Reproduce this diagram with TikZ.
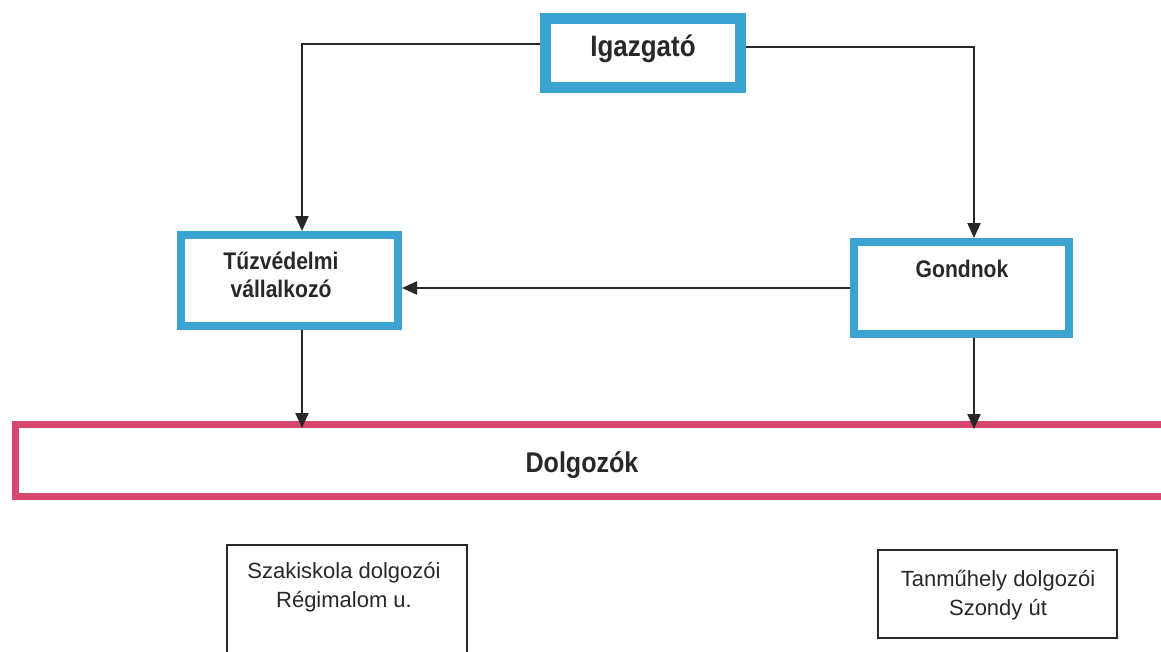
\documentclass[tikz,border=0pt]{standalone}
\usepackage{fontspec}
\setmainfont{Liberation Sans}
\newfontfamily\condsans{Liberation Sans}[FakeStretch=0.88]
\usetikzlibrary{arrows.meta}
\definecolor{boxblue}{RGB}{58,163,209}
\definecolor{dpink}{RGB}{214,72,112}
\definecolor{ink}{RGB}{40,40,40}
\begin{document}
\begin{tikzpicture}[x=1pt,y=-1pt,
  bluebox/.style={draw=boxblue, line width=8pt, fill=white, inner sep=0pt},
  pinkbox/.style={draw=dpink, line width=7pt, fill=white, inner sep=0pt},
  blackbox/.style={draw=ink, line width=1.8pt, fill=white, inner sep=0pt},
  btxt/.style={text=ink, font=\condsans\bfseries\fontsize{#1}{28}\selectfont, inner sep=0pt, align=center},
  rtxt/.style={text=ink, font=\fontsize{22}{29}\selectfont, inner sep=0pt, align=center},
  arr/.style={draw=ink, line width=2.2pt, -{Triangle[length=15pt,width=13pt]}}]
\useasboundingbox (0,0) rectangle (1161,651);
\fill[white] (0,0) rectangle (1161,651);
\clip (0,0) rectangle (1161,651);

% boxes
\node[bluebox, line width=11pt, minimum width=195pt, minimum height=69pt] (igaz) at (643,53) {};
\node[bluebox, minimum width=217pt, minimum height=91pt] (tuz) at (289.5,280.5) {};
\node[bluebox, minimum width=215pt, minimum height=92pt] (gond) at (961.5,288) {};
\node[pinkbox, minimum width=1170pt, minimum height=72pt, anchor=west] (dolg) at (11.5,460.5) {};
\node[blackbox, minimum width=240pt, minimum height=130pt] (szak) at (347,610) {};
\node[blackbox, minimum width=239pt, minimum height=88pt] (tanm) at (997.5,594) {};

% texts
\node[btxt=29.5, anchor=base] (igazT) at (643,56) {Igazgató};
\node[btxt=24, anchor=base] (tuzT) at (281,297) {Tűzvédelmi\\vállalkozó};
\node[btxt=24, anchor=base] (gondT) at (962,277) {Gondnok};
\node[btxt=28.5, anchor=base] (dolgT) at (582,472) {Dolgozók};
\node[rtxt, anchor=base] (szakT) at (344,607) {Szakiskola dolgozói\\Régimalom u.};
\node[rtxt, anchor=base] (tanmT) at (998,615) {Tanműhely dolgozói\\Szondy út};

% connectors
\draw[arr] ([yshift=9pt]igaz.west) -| ([xshift=12.5pt]tuz.north);
\draw[arr] ([yshift=6pt]igaz.east) -| ([xshift=12.5pt]gond.north);
\draw[arr] (gond.west) -- (tuz.east |- gond.west);
\draw[arr] ([xshift=12.5pt]tuz.south) -- ([xshift=12.5pt,yshift=-7pt]tuz.south |- dolg.north);
\draw[arr] ([xshift=12.5pt]gond.south) -- ([xshift=12.5pt,yshift=-8pt]gond.south |- dolg.north);
\end{tikzpicture}
\end{document}
